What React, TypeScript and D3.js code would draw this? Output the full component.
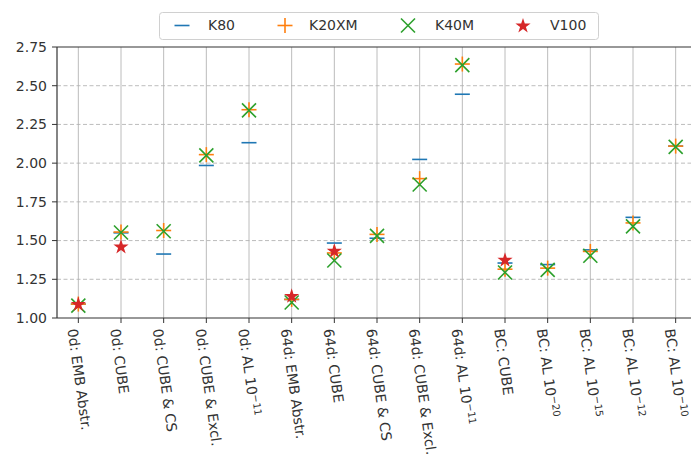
import React from 'react';
import * as d3 from 'd3';

// categories (use ^ to mark exponent)
const categories = [
  '0d: EMB Abstr.', '0d: CUBE', '0d: CUBE & CS', '0d: CUBE & Excl.', '0d: AL 10^−11',
  '64d: EMB Abstr.', '64d: CUBE', '64d: CUBE & CS', '64d: CUBE & Excl.', '64d: AL 10^−11',
  'BC: CUBE', 'BC: AL 10^−20', 'BC: AL 10^−15', 'BC: AL 10^−12', 'BC: AL 10^−10',
];

const k80 = [1.09, 1.55, 1.413, 1.985, 2.132, 1.12, 1.484, 1.515, 2.024, 2.445, 1.355, 1.345, 1.44, 1.65, 2.11];
const k20xm = [1.09, 1.555, 1.565, 2.055, 2.345, 1.12, 1.42, 1.54, 1.9, 2.64, 1.315, 1.322, 1.43, 1.614, 2.11];
const k40m = [1.08, 1.552, 1.56, 2.05, 2.341, 1.1, 1.371, 1.53, 1.862, 2.633, 1.294, 1.311, 1.402, 1.592, 2.105];
const v100 = [1.09, 1.462, null, null, null, 1.143, 1.434, null, null, null, 1.376, null, null, null, null];

const yTicks = [1.0, 1.25, 1.5, 1.75, 2.0, 2.25, 2.5, 2.75];

const C = { blue: '#1f77b4', orange: '#ff7f0e', green: '#2ca02c', red: '#d62728' };
const FONT = 'DejaVu Sans, sans-serif';

const x = d3.scaleLinear().domain([-0.5, 14.5]).range([57, 697]);
const y = d3.scaleLinear().domain([1, 2.75]).range([318, 47]);
const star = d3.symbol().type(d3.symbolStar).size(72)();

const Marker = ({ kind, cx, cy }: { kind: string; cx: number; cy: number }) => {
  const h = 7.5;
  if (kind === 'k80')
    return <line x1={cx - h} x2={cx + h} y1={cy} y2={cy} stroke={C.blue} strokeWidth={1.6} />;
  if (kind === 'k20xm')
    return (
      <g stroke={C.orange} strokeWidth={1.6}>
        <line x1={cx - h} x2={cx + h} y1={cy} y2={cy} />
        <line x1={cx} x2={cx} y1={cy - h} y2={cy + h} />
      </g>
    );
  if (kind === 'k40m') {
    const d = 7;
    return (
      <g stroke={C.green} strokeWidth={1.6}>
        <line x1={cx - d} x2={cx + d} y1={cy - d} y2={cy + d} />
        <line x1={cx - d} x2={cx + d} y1={cy + d} y2={cy - d} />
      </g>
    );
  }
  return <path d={star!} transform={`translate(${cx},${cy + 0.5})`} fill={C.red} />;
};

const series = [
  { key: 'k80', name: 'K80', values: k80 },
  { key: 'k20xm', name: 'K20XM', values: k20xm },
  { key: 'k40m', name: 'K40M', values: k40m },
  { key: 'v100', name: 'V100', values: v100 },
];

const legendPos = [
  { m: 182, t: 208 },
  { m: 285, t: 309 },
  { m: 408, t: 435 },
  { m: 523, t: 550 },
];

export default function App() {
  return (
    <svg width={691} height={466} style={{ position: 'absolute', left: 0, top: 0, background: '#fff' }}
      fontFamily={FONT}>
      <rect width={691} height={466} fill="#fff" />
      {/* grid */}
      {categories.map((_, i) => (
        <line key={'vg' + i} x1={x(i)} x2={x(i)} y1={y(2.75)} y2={y(1)} stroke="#b0b0b0" strokeOpacity={0.85} strokeWidth={1} />
      ))}
      {yTicks.slice(1, -1).map(t => (
        <line key={'hg' + t} x1={x(-0.5)} x2={691} y1={y(t)} y2={y(t)} stroke="#b0b0b0" strokeOpacity={0.85}
          strokeWidth={1} strokeDasharray="4,2.5" />
      ))}
      {/* spines */}
      <g stroke="#333" strokeWidth={1.2} fill="none">
        <line x1={x(-0.5)} x2={x(-0.5)} y1={y(2.75)} y2={y(1)} />
        <line x1={x(-0.5)} x2={691} y1={y(1)} y2={y(1)} />
        <line x1={x(-0.5)} x2={691} y1={y(2.75)} y2={y(2.75)} />
      </g>
      {/* y ticks */}
      {yTicks.map(t => (
        <g key={'yt' + t}>
          <line x1={x(-0.5) - 5} x2={x(-0.5)} y1={y(t)} y2={y(t)} stroke="#333" strokeWidth={1} />
          <text x={x(-0.5) - 10} y={y(t)} dy="0.35em" textAnchor="end" fontSize={14} fill="#333">{t.toFixed(2)}</text>
        </g>
      ))}
      {/* x ticks and labels */}
      {categories.map((c, i) => {
        const [base, exp] = c.split('^');
        return (
          <g key={'xt' + i}>
            <line x1={x(i)} x2={x(i)} y1={y(1)} y2={y(1) + 5} stroke="#333" strokeWidth={1} />
            <text transform={`translate(${x(i)},${y(1) + 10}) rotate(82)`} dy="0.78em" fontSize={14} fill="#333">
              {base}
              {exp && <tspan dy="-0.45em" fontSize={10}>{exp}</tspan>}
            </text>
          </g>
        );
      })}
      {/* data */}
      {series.map(s => (
        <g key={s.key}>
          {s.values.map((v, i) => v == null ? null : <Marker key={i} kind={s.key} cx={x(i)} cy={y(v)} />)}
        </g>
      ))}
      {/* legend */}
      <rect x={159.5} y={12.5} width={439} height={27} rx={3} fill="#fff" fillOpacity={0.85} stroke="#d0d0d0" />
      {series.map((s, i) => (
        <g key={'lg' + s.key}>
          <Marker kind={s.key} cx={legendPos[i].m} cy={25.5} />
          <text x={legendPos[i].t} y={25.5} dy="0.35em" fontSize={14} fill="#333">{s.name}</text>
        </g>
      ))}
    </svg>
  );
}
